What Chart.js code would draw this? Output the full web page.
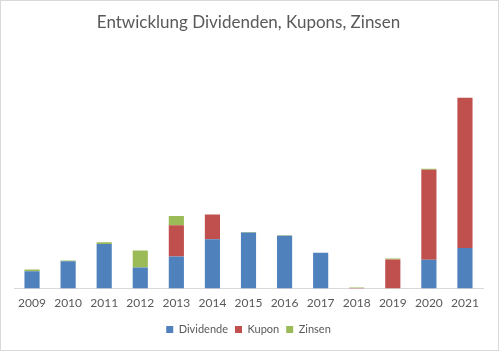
<!DOCTYPE html>
<html>
<head>
<meta charset="utf-8">
<script src="https://cdn.jsdelivr.net/npm/chart.js@4"></script>
<style>
  html, body { margin: 0; padding: 0; background: #fff; }
  #wrap { width: 497px; height: 349px; border: 1px solid #d9d9d9; }
</style>
</head>
<body>
<div id="wrap"><canvas id="chart" width="497" height="349"></canvas></div>
<script>
// Jahre
const jahre = ["2009","2010","2011","2012","2013","2014","2015","2016","2017","2018","2019","2020","2021"];
const dividende = [17.3, 27.3, 44.3, 21, 32, 49, 55.7, 52.7, 35.7, 0, 0, 28.7, 40.3];
const kupon     = [0, 0, 0, 0, 31, 24.7, 0, 0, 0, 0.5, 29, 89.5, 149.7];
const zinsen    = [1.7, 0.7, 1.7, 17, 9.3, 0, 0.5, 0.5, 0, 0.5, 1, 1, 0];

const schrift = "Lato, 'Open Sans', sans-serif";
const grau = '#595959';

var ctx = document.getElementById('chart').getContext('2d');
var chart = new Chart(ctx, {
    type: 'bar',
    data: {
        labels: jahre,
        datasets: [
            { label: 'Dividende', data: dividende, backgroundColor: '#4F81BD' },
            { label: 'Kupon', data: kupon, backgroundColor: '#C0504D' },
            { label: 'Zinsen', data: zinsen, backgroundColor: '#9BBB59' }
        ]
    },
    options: {
        responsive: false,
        animation: false,
        layout: { padding: { left: 13, right: 15, top: 6, bottom: 5 } },
        datasets: { bar: { barPercentage: 0.42, categoryPercentage: 1 } },
        plugins: {
            title: {
                display: true,
                text: 'Entwicklung Dividenden, Kupons, Zinsen',
                color: grau,
                font: { family: schrift, size: 17, weight: 'normal' },
                padding: { top: 5, bottom: 20 }
            },
            legend: {
                position: 'bottom',
                labels: {
                    color: grau,
                    font: { family: schrift, size: 11 },
                    boxWidth: 7,
                    boxHeight: 7,
                    padding: 7
                }
            },
            tooltip: { enabled: false }
        },
        scales: {
            x: {
                stacked: true,
                grid: { display: false, drawTicks: false },
                border: { color: '#d9d9d9' },
                ticks: { color: grau, font: { family: schrift, size: 12 }, maxRotation: 0, padding: 7 }
            },
            y: {
                stacked: true,
                display: false,
                min: 0,
                max: 235
            }
        }
    }
});
</script>
</body>
</html>
